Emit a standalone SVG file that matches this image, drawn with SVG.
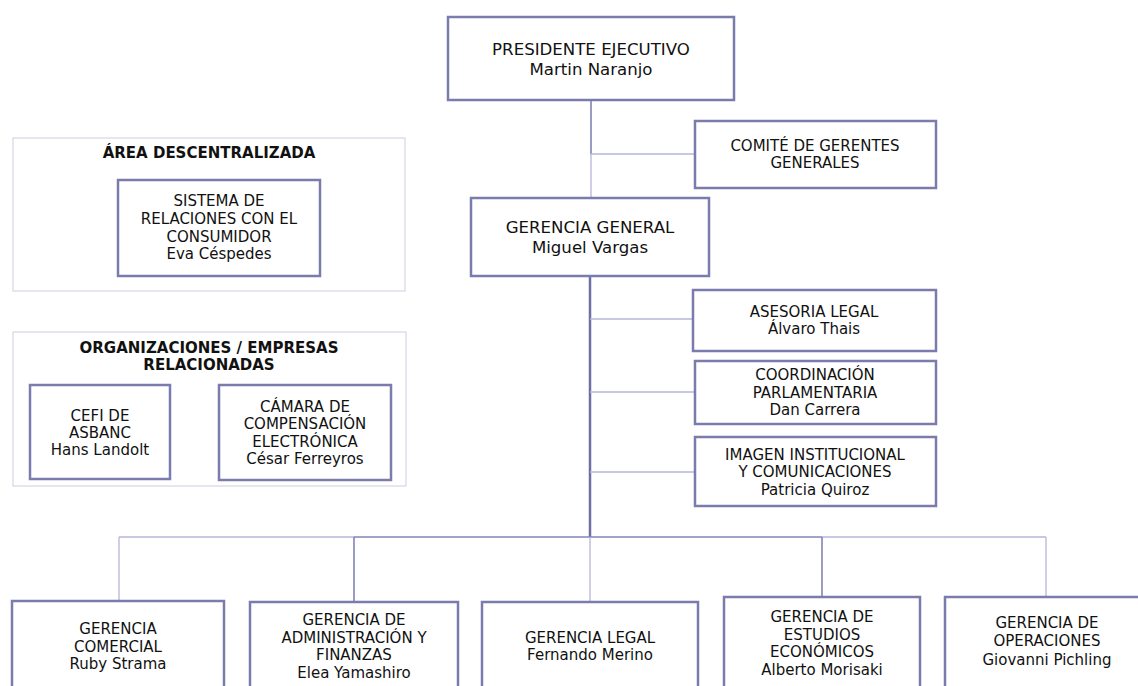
<svg xmlns="http://www.w3.org/2000/svg" width="1138" height="686" viewBox="0 0 1138 686">
<style>
.bg{fill:#ffffff}
.box{fill:#ffffff;stroke:#7a7cad;stroke-width:2.5}
.panel{fill:#ffffff;stroke:#d6d6e6;stroke-width:1.2}
.t{font-family:"DejaVu Sans",Verdana,sans-serif;font-size:15px;fill:#111111;text-anchor:middle}
.tl{font-family:"DejaVu Sans",Verdana,sans-serif;font-size:16.6px;fill:#111111;text-anchor:middle}
.tb{font-family:"DejaVu Sans",Verdana,sans-serif;font-size:15px;font-weight:bold;fill:#111111;text-anchor:middle}
.cl{stroke:#b4b6d8;stroke-width:1.3;fill:none}
.cm{stroke:#8284b4;stroke-width:1.6;fill:none}
.cd{stroke:#6e70a4;stroke-width:2.5;fill:none}
</style>
<rect class="bg" x="0" y="0" width="1138" height="686"/>
<g id="connectors">
  <line class="cm" x1="591" y1="100" x2="591" y2="154"/>
  <line class="cl" x1="591" y1="154" x2="591" y2="198"/>
  <line class="cl" x1="591" y1="154" x2="695" y2="154"/>
  <line class="cd" x1="590" y1="276" x2="590" y2="537"/>
  <line class="cl" x1="590" y1="319" x2="693" y2="319"/>
  <line class="cl" x1="590" y1="392" x2="695" y2="392"/>
  <line class="cl" x1="590" y1="472" x2="695" y2="472"/>
  <line class="cl" x1="119" y1="537" x2="354" y2="537"/>
  <line class="cm" x1="354" y1="537" x2="822" y2="537"/>
  <line class="cl" x1="822" y1="537" x2="1046" y2="537"/>
  <line class="cl" x1="119" y1="537" x2="119" y2="601"/>
  <line class="cm" x1="354" y1="537" x2="354" y2="602"/>
  <line class="cl" x1="590" y1="537" x2="590" y2="602"/>
  <line class="cm" x1="822" y1="537" x2="822" y2="597"/>
  <line class="cl" x1="1046" y1="537" x2="1046" y2="597"/>
</g>
<g id="presidente">
  <rect class="box" x="448" y="17" width="286" height="83"/>
  <text class="tl" x="591" y="55">PRESIDENTE EJECUTIVO</text>
  <text class="tl" x="591" y="75">Martin Naranjo</text>
</g>
<g id="comite">
  <rect class="box" x="695" y="121" width="241" height="67"/>
  <text class="t" x="815" y="151">COMITÉ DE GERENTES</text>
  <text class="t" x="815" y="168">GENERALES</text>
</g>
<g id="gerencia-general">
  <rect class="box" x="471" y="198" width="238" height="78"/>
  <text class="tl" x="590" y="233">GERENCIA GENERAL</text>
  <text class="tl" x="590" y="253">Miguel Vargas</text>
</g>
<g id="asesoria-legal">
  <rect class="box" x="693" y="290" width="243" height="61"/>
  <text class="t" x="814" y="317">ASESORIA LEGAL</text>
  <text class="t" x="814" y="334">Álvaro Thais</text>
</g>
<g id="coordinacion">
  <rect class="box" x="695" y="361" width="241" height="63"/>
  <text class="t" x="815" y="380">COORDINACIÓN</text>
  <text class="t" x="815" y="397.5">PARLAMENTARIA</text>
  <text class="t" x="815" y="415">Dan Carrera</text>
</g>
<g id="imagen">
  <rect class="box" x="695" y="437" width="241" height="69"/>
  <text class="t" x="815" y="460">IMAGEN INSTITUCIONAL</text>
  <text class="t" x="815" y="477">Y COMUNICACIONES</text>
  <text class="t" x="815" y="495">Patricia Quiroz</text>
</g>
<g id="area-descentralizada">
  <rect class="panel" x="13" y="138" width="392" height="153"/>
  <text class="tb" x="209" y="158">ÁREA DESCENTRALIZADA</text>
</g>
<g id="sistema">
  <rect class="box" x="118" y="180" width="202" height="96"/>
  <text class="t" x="219" y="206">SISTEMA DE</text>
  <text class="t" x="219" y="223.5">RELACIONES CON EL</text>
  <text class="t" x="219" y="241.5">CONSUMIDOR</text>
  <text class="t" x="219" y="259">Eva Céspedes</text>
</g>
<g id="organizaciones">
  <rect class="panel" x="13" y="332" width="393" height="154"/>
  <text class="tb" x="209" y="353">ORGANIZACIONES / EMPRESAS</text>
  <text class="tb" x="209" y="370">RELACIONADAS</text>
</g>
<g id="cefi">
  <rect class="box" x="30" y="385" width="140" height="94"/>
  <text class="t" x="100" y="420.5">CEFI DE</text>
  <text class="t" x="100" y="437.5">ASBANC</text>
  <text class="t" x="100" y="455">Hans Landolt</text>
</g>
<g id="camara">
  <rect class="box" x="219" y="385" width="172" height="95"/>
  <text class="t" x="305" y="411.5">CÁMARA DE</text>
  <text class="t" x="305" y="429">COMPENSACIÓN</text>
  <text class="t" x="305" y="446.5">ELECTRÓNICA</text>
  <text class="t" x="305" y="464">César Ferreyros</text>
</g>
<g id="gerencia-comercial">
  <rect class="box" x="12" y="601" width="212" height="90"/>
  <text class="t" x="118" y="634">GERENCIA</text>
  <text class="t" x="118" y="652">COMERCIAL</text>
  <text class="t" x="118" y="669">Ruby Strama</text>
</g>
<g id="gerencia-administracion">
  <rect class="box" x="250" y="602" width="208" height="90"/>
  <text class="t" x="354" y="625">GERENCIA DE</text>
  <text class="t" x="354" y="642.5">ADMINISTRACIÓN Y</text>
  <text class="t" x="354" y="660">FINANZAS</text>
  <text class="t" x="354" y="678">Elea Yamashiro</text>
</g>
<g id="gerencia-legal">
  <rect class="box" x="482" y="602" width="216" height="90"/>
  <text class="t" x="590" y="643">GERENCIA LEGAL</text>
  <text class="t" x="590" y="660">Fernando Merino</text>
</g>
<g id="gerencia-estudios">
  <rect class="box" x="724" y="597" width="196" height="95"/>
  <text class="t" x="822" y="622">GERENCIA DE</text>
  <text class="t" x="822" y="639.5">ESTUDIOS</text>
  <text class="t" x="822" y="657">ECONÓMICOS</text>
  <text class="t" x="822" y="675">Alberto Morisaki</text>
</g>
<g id="gerencia-operaciones">
  <rect class="box" x="945" y="597" width="204" height="95"/>
  <text class="t" x="1047" y="628">GERENCIA DE</text>
  <text class="t" x="1047" y="646">OPERACIONES</text>
  <text class="t" x="1047" y="665">Giovanni Pichling</text>
</g>
</svg>
